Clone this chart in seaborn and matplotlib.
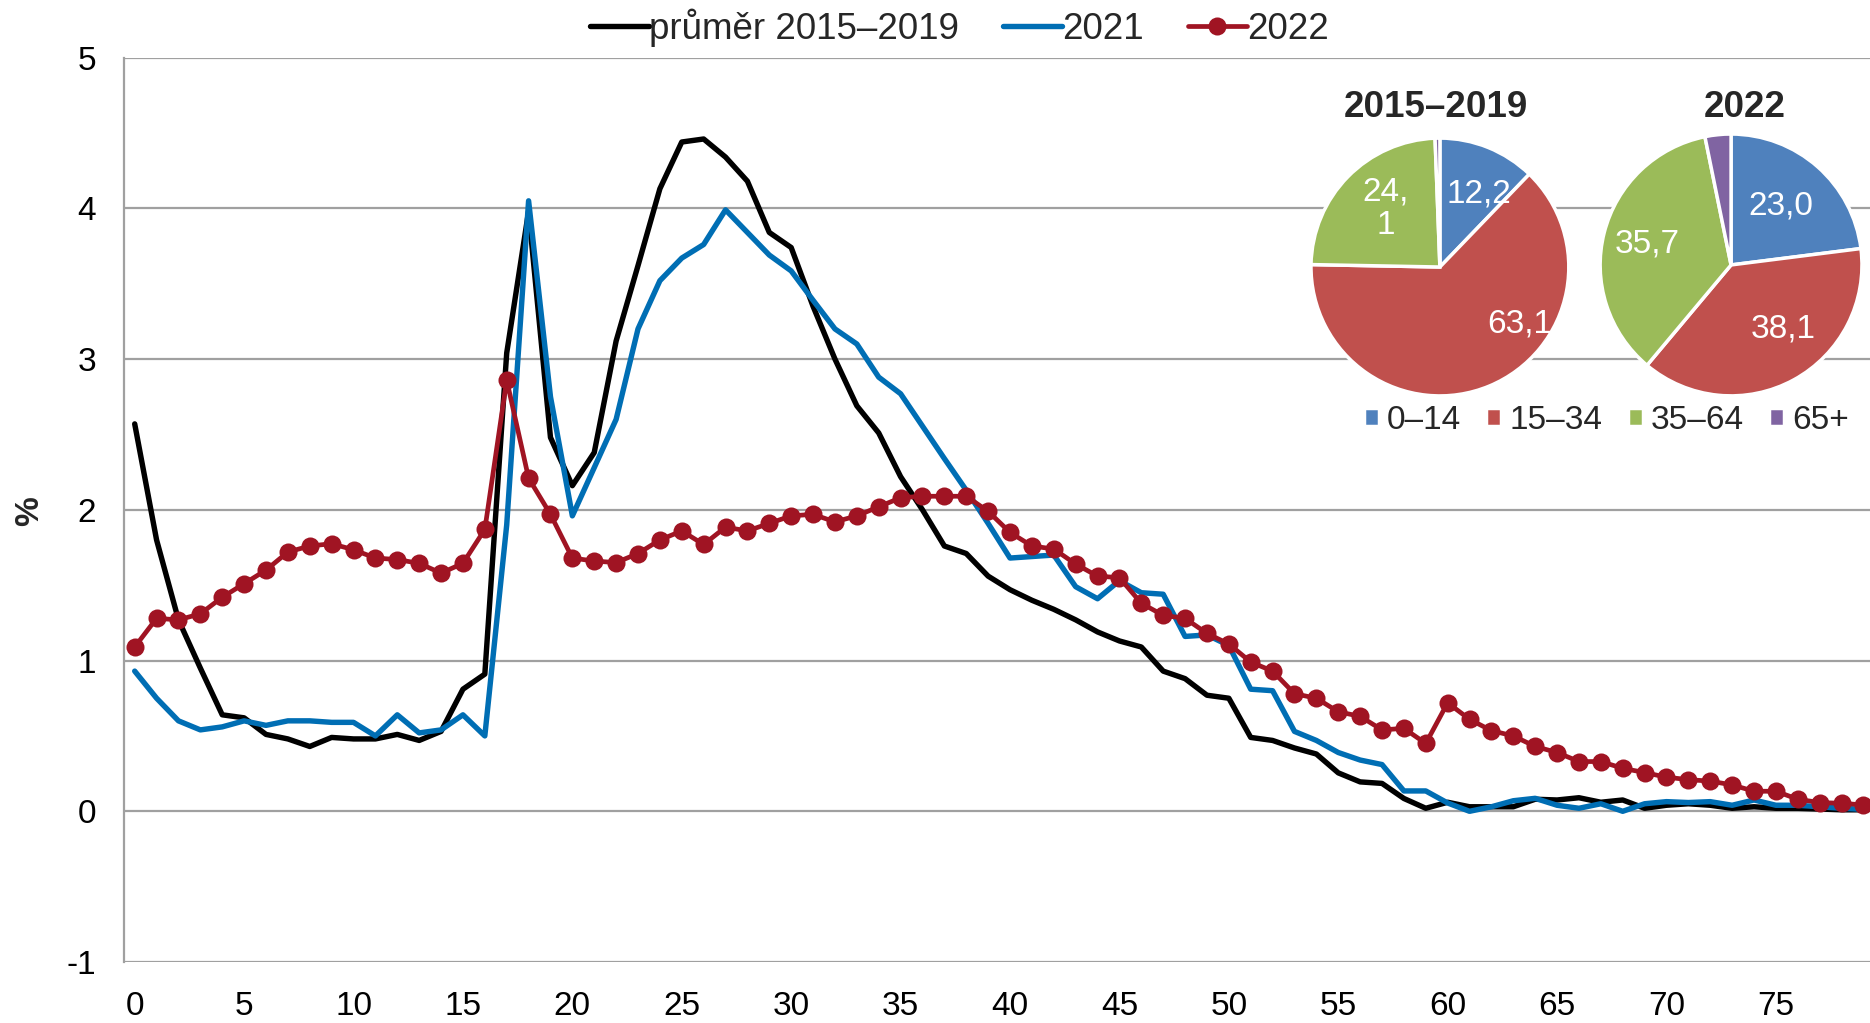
import numpy as np
import pandas as pd
import matplotlib
matplotlib.use("Agg")
import matplotlib.pyplot as plt
import seaborn as sns

# věk 0-79
vek = list(range(80))

prumer_2015_2019 = [2.57, 1.80, 1.27, 0.95, 0.64, 0.62, 0.51, 0.48, 0.43, 0.49,
                    0.48, 0.48, 0.51, 0.47, 0.53, 0.81, 0.91, 3.04, 3.98, 2.48,
                    2.16, 2.38, 3.12, 3.62, 4.13, 4.44, 4.46, 4.34, 4.18, 3.84,
                    3.74, 3.35, 3.00, 2.69, 2.51, 2.22, 2.00, 1.76, 1.71, 1.56,
                    1.47, 1.40, 1.34, 1.27, 1.19, 1.13, 1.09, 0.93, 0.88, 0.77,
                    0.75, 0.49, 0.47, 0.42, 0.38, 0.255, 0.195, 0.185, 0.085, 0.02,
                    0.06, 0.03, 0.03, 0.03, 0.08, 0.075, 0.09, 0.06, 0.075, 0.02,
                    0.04, 0.05, 0.04, 0.02, 0.03, 0.02, 0.02, 0.015, 0.01, 0.01]

rok_2021 = [0.93, 0.75, 0.60, 0.54, 0.56, 0.60, 0.57, 0.60, 0.60, 0.59,
            0.59, 0.50, 0.64, 0.52, 0.54, 0.64, 0.50, 1.90, 4.05, 2.75,
            1.96, 2.28, 2.60, 3.20, 3.52, 3.67, 3.76, 3.99, 3.84, 3.69,
            3.585, 3.39, 3.20, 3.10, 2.88, 2.77, 2.555, 2.34, 2.13, 1.91,
            1.68, 1.69, 1.70, 1.49, 1.41, 1.53, 1.45, 1.44, 1.16, 1.17,
            1.10, 0.81, 0.80, 0.53, 0.47, 0.39, 0.34, 0.31, 0.135, 0.135,
            0.055, 0.0, 0.03, 0.07, 0.086, 0.04, 0.02, 0.05, 0.0, 0.05,
            0.064, 0.058, 0.064, 0.04, 0.075, 0.04, 0.04, 0.03, 0.02, 0.013]

rok_2022 = [1.09, 1.28, 1.27, 1.31, 1.42, 1.51, 1.60, 1.72, 1.76, 1.775,
            1.735, 1.68, 1.67, 1.645, 1.58, 1.645, 1.87, 2.86, 2.21, 1.97,
            1.68, 1.66, 1.65, 1.71, 1.80, 1.86, 1.77, 1.885, 1.86, 1.91,
            1.96, 1.97, 1.92, 1.96, 2.02, 2.08, 2.09, 2.09, 2.09, 1.99,
            1.85, 1.76, 1.74, 1.64, 1.56, 1.55, 1.38, 1.30, 1.28, 1.18,
            1.11, 0.99, 0.93, 0.78, 0.75, 0.66, 0.63, 0.54, 0.55, 0.45,
            0.72, 0.61, 0.535, 0.50, 0.43, 0.39, 0.33, 0.33, 0.285, 0.257,
            0.226, 0.21, 0.20, 0.175, 0.133, 0.133, 0.08, 0.058, 0.053, 0.042]

# struktura podle věkových skupin (%)
skupiny = ["0–14", "15–34", "35–64", "65+"]
pie_2015_2019 = [12.2, 63.1, 24.1, 0.6]
pie_2022 = [23.0, 38.1, 35.7, 3.2]
popisky_2015_2019 = ["12,2", "63,1", "24,\n1", ""]
popisky_2022 = ["23,0", "38,1", "35,7", ""]

sns.set_theme(style="white")
plt.rcParams['font.family'] = ['Liberation Sans', 'DejaVu Sans']
plt.rcParams['axes.unicode_minus'] = False

df = pd.DataFrame({"vek": vek, "prumer": prumer_2015_2019,
                   "r2021": rok_2021, "r2022": rok_2022})

fig = plt.figure(figsize=(18.7, 10.23), dpi=100)
ax = fig.add_axes([0.0663, 0.0596, 0.9337, 0.8841])

sns.lineplot(data=df, x="vek", y="prumer", ax=ax, color="black", lw=3.9,
             label="průměr 2015–2019")
sns.lineplot(data=df, x="vek", y="r2021", ax=ax, color="#006EB4", lw=3.9,
             label="2021")
sns.lineplot(data=df, x="vek", y="r2022", ax=ax, color="#A01423", lw=3.4,
             marker="o", markersize=13, markeredgewidth=0, label="2022")

ax.set_xlim(-0.49, 79.3)
ax.set_ylim(-1, 5)
ax.set_xticks(range(0, 80, 5))
ax.set_yticks(range(-1, 6))
ax.grid(axis="y", color="#A0A0A0", lw=1.6)
ax.set_axisbelow(True)
for s in ["top", "right", "bottom"]:
    ax.spines[s].set_visible(False)
ax.spines["left"].set_color("#A0A0A0")
ax.spines["left"].set_linewidth(1.6)
ax.tick_params(axis="both", length=0, labelsize=24, colors="black")
ax.tick_params(axis="y", pad=20)
ax.tick_params(axis="x", pad=21)
ax.set_xlabel("")
ax.set_ylabel("")
fig.text(0.016, 0.50, "%", rotation=90, fontsize=24, fontweight="bold",
         ha="center", va="center")

ax.legend(loc="center", bbox_to_anchor=(0.513, 0.973), bbox_transform=fig.transFigure,
          ncol=3, frameon=False, fontsize=26.5, handlelength=1.6,
          handletextpad=0.0, columnspacing=1.2)

barvy = ["#4F81BD", "#C0504D", "#9BBB59", "#8064A2"]

def kolac(pozice, hodnoty, popisky, pos_popisku, titul, titul_x):
    pax = fig.add_axes(pozice)
    wedges, _ = pax.pie(hodnoty, colors=barvy, startangle=90, counterclock=False,
                        radius=1, wedgeprops=dict(edgecolor="white", linewidth=2.5))
    pax.set_xlim(-1, 1)
    pax.set_ylim(-1, 1)
    pax.set_aspect("equal")
    for t, (x, y) in zip(popisky, pos_popisku):
        if t:
            pax.text(x, y, t, color="white", fontsize=24, ha="center", va="center",
                     linespacing=1.1)
    fig.text(titul_x, 0.895, titul, fontsize=26.5, fontweight="bold",
             ha="center", va="center")
    return wedges

w1 = kolac([0.701, 0.613, 0.138, 0.252], pie_2015_2019, popisky_2015_2019,
           [(0.30, 0.57), (0.62, -0.44), (-0.42, 0.45), (0, 0)], "2015–2019", 0.768)
w2 = kolac([0.8557, 0.613, 0.140, 0.256], pie_2022, popisky_2022,
           [(0.38, 0.45), (0.40, -0.49), (-0.64, 0.16), (0, 0)], "2022", 0.933)

fig.legend(w1, skupiny, loc="center", bbox_to_anchor=(0.859, 0.589), ncol=4,
           frameon=False, fontsize=24, handlelength=0.45, handleheight=0.45,
           handletextpad=0.25, columnspacing=0.75)

fig.savefig("out.png", dpi=100)
